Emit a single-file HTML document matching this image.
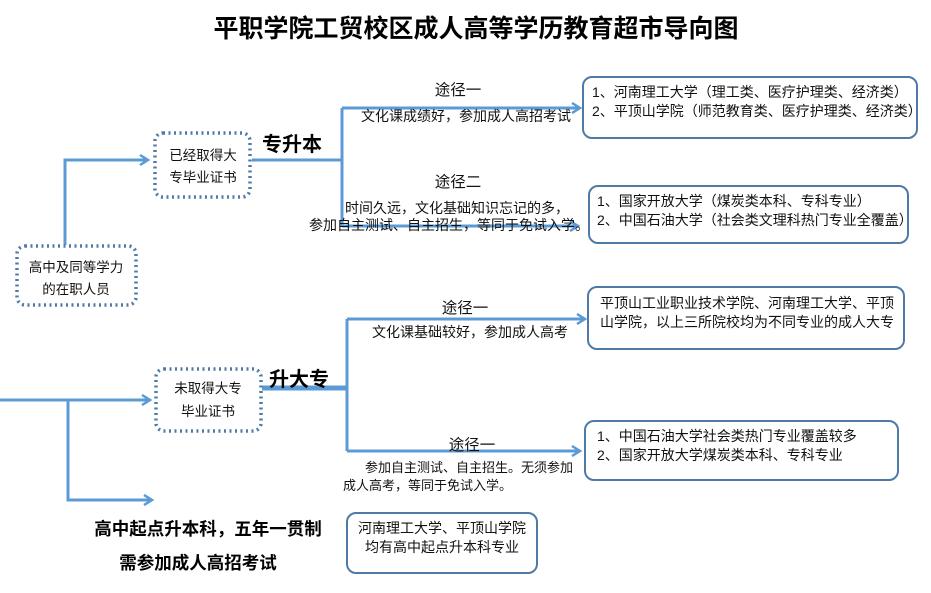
<!DOCTYPE html>
<html><head><meta charset="utf-8"><style>
html,body{margin:0;padding:0;background:#fff;}
svg{display:block;font-family:"Liberation Sans","Noto Sans CJK SC",sans-serif;}
</style></head><body>
<svg width="931" height="593" viewBox="0 0 931 593" xmlns="http://www.w3.org/2000/svg">
<defs>
<marker id="a" markerWidth="12" markerHeight="12" refX="9" refY="6" orient="auto" markerUnits="userSpaceOnUse">
<path d="M1,1 L9,6 L1,11" fill="none" stroke="#5b9bd5" stroke-width="2.5"/>
</marker>
</defs>
<text x="476" y="37" text-anchor="middle" font-size="25" font-weight="bold" fill="#000">平职学院工贸校区成人高等学历教育超市导向图</text>

<g stroke="#5b9bd5" stroke-width="3" fill="none">
<path d="M65,245 V160 H148" marker-end="url(#a)"/>
<path d="M252,160 H342"/>
<path d="M342,108 V226"/>
<path d="M342,108 H580" marker-end="url(#a)"/>
<path d="M342,226 H578" marker-end="url(#a)"/>
<path d="M0,400 H150" marker-end="url(#a)"/>
<path d="M68,400 V500 H152" marker-end="url(#a)"/>
<path d="M262,388 H347" stroke-width="5"/>
<path d="M347,319 V451"/>
<path d="M347,319 H585" marker-end="url(#a)"/>
<path d="M347,451 H580" marker-end="url(#a)"/>
</g>

<g fill="#fff" stroke="#4f7aa8" stroke-width="3.5" stroke-dasharray="2 3.5">
<rect x="155" y="133" width="95" height="64" rx="8"/>
<rect x="17" y="246" width="119" height="59" rx="8"/>
<rect x="156" y="369" width="105" height="62" rx="8"/>
</g>
<g fill="#fff" stroke="#4f7aa8" stroke-width="2">
<rect x="583" y="77" width="334" height="61" rx="9"/>
<rect x="589" y="186" width="319" height="57" rx="9"/>
<rect x="588" y="287" width="316" height="62" rx="9"/>
<rect x="585" y="421" width="313" height="59" rx="9"/>
<rect x="347" y="513" width="190" height="60" rx="9"/>
</g>

<g font-size="13.5" fill="#111" text-anchor="middle">
<text x="203" y="160">已经取得大</text>
<text x="203" y="182">专毕业证书</text>
<text x="76" y="272">高中及同等学力</text>
<text x="76" y="294">的在职人员</text>
<text x="208" y="393">未取得大专</text>
<text x="208" y="416">毕业证书</text>
</g>
<g font-size="20" font-weight="bold" fill="#000">
<text x="262" y="151">专升本</text>
<text x="269" y="386">升大专</text>
</g>
<g font-size="17.5" font-weight="bold" fill="#000" text-anchor="middle">
<text x="208" y="535">高中起点升本科，五年一贯制</text>
<text x="198" y="569">需参加成人高招考试</text>
</g>
<g font-size="15.5" fill="#111" text-anchor="middle">
<text x="458" y="95">途径一</text>
<text x="458" y="187">途径二</text>
<text x="465" y="313">途径一</text>
<text x="472" y="450">途径一</text>
</g>
<g font-size="14" fill="#111">
<text x="361" y="121">文化课成绩好，参加成人高招考试</text>
<text x="345" y="213">时间久远，文化基础知识忘记的多，</text>
<text x="309" y="230">参加自主测试、自主招生，等同于免试入学。</text>
<text x="372" y="337">文化课基础较好，参加成人高考</text>
<text x="365" y="472" font-size="13">参加自主测试、自主招生。无须参加</text>
<text x="343" y="490" font-size="13">成人高考，等同于免试入学。</text>
<text x="592" y="97">1、河南理工大学（理工类、医疗护理类、经济类）</text>
<text x="592" y="116">2、平顶山学院（师范教育类、医疗护理类、经济类）</text>
<text x="597" y="206">1、国家开放大学（煤炭类本科、专科专业）</text>
<text x="597" y="225">2、中国石油大学（社会类文理科热门专业全覆盖）</text>
<text x="600" y="308">平顶山工业职业技术学院、河南理工大学、平顶</text>
<text x="600" y="327">山学院，以上三所院校均为不同专业的成人大专</text>
<text x="597" y="441">1、中国石油大学社会类热门专业覆盖较多</text>
<text x="597" y="460">2、国家开放大学煤炭类本科、专科专业</text>
<text x="442" y="533" text-anchor="middle">河南理工大学、平顶山学院</text>
<text x="442" y="552" text-anchor="middle">均有高中起点升本科专业</text>
</g>
</svg>
</body></html>
